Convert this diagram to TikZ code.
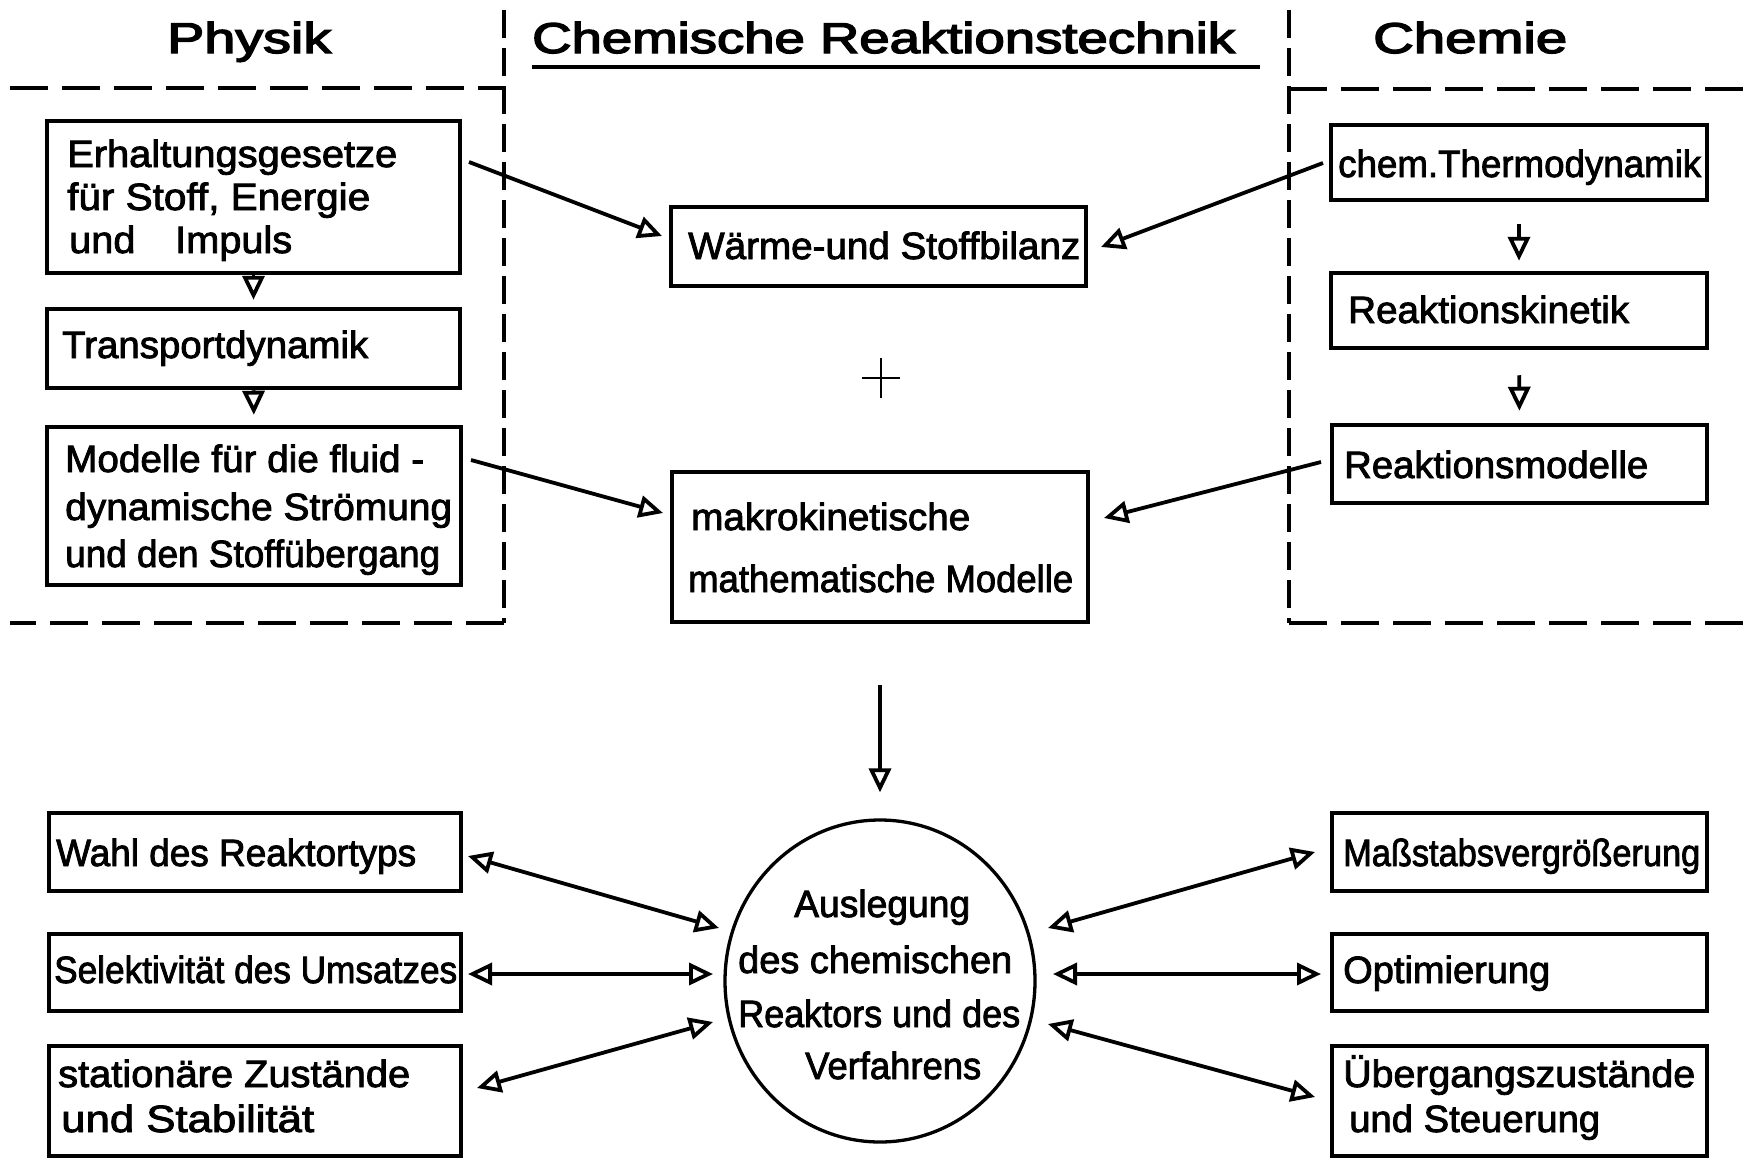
\documentclass[tikz,border=0pt]{standalone}
\usepackage{fontspec}
\setmainfont{Liberation Sans}
\newfontfamily\heavy[FakeBold=2.2]{Liberation Sans}
\newfontfamily\heavier[FakeBold=3]{Liberation Sans}
\usepackage{graphicx}
\usetikzlibrary{arrows.meta,shapes.geometric}
\newcommand{\fitto}[2]{\resizebox{#1pt}{\height}{#2}}
\begin{document}
\begin{tikzpicture}[x=1pt,y=-1pt,
  box/.style={draw, line width=4.5pt, rectangle, inner sep=0pt},
  txt/.style={inner sep=0pt, anchor=base west, font=\heavy\fontsize{38pt}{44pt}\selectfont},
  ttl/.style={inner sep=0pt, anchor=base west, font=\heavier\fontsize{43pt}{50pt}\selectfont},
  arr/.style={line width=3.8pt, -{Triangle[open,length=24pt,width=22pt]}},
  darr/.style={line width=3.8pt, {Triangle[open,length=24pt,width=22pt]}-{Triangle[open,length=24pt,width=22pt]}},
  dsh/.style={line width=4.3pt, dash pattern=on 38pt off 14pt},
  dshv/.style={line width=4.3pt, dash pattern=on 28pt off 10pt}]
\useasboundingbox[fill=white] (0,0) rectangle (1748,1159);

% titles
\node[ttl] (tphys) at (167,53) {\fitto{164}{Physik}};
\node[ttl] (tcrt) at (532,53) {\fitto{703}{Chemische Reaktionstechnik}};
\node[ttl] (tchem) at (1373,53) {\fitto{194}{Chemie}};
\draw[line width=3.5pt] (532,67) -- (1260,67);

% dashed separators
\draw[dsh] (10,88) -- (504,88);
\draw[dshv] (504,10) -- (504,623);
\draw[dsh] (504,623) -- (10,623);
\draw[dsh] (1289,89) -- (1748,89);
\draw[dshv] (1289,10) -- (1289,623);
\draw[dsh] (1289,623) -- (1748,623);

% boxes
\node[box, minimum width=413pt, minimum height=152pt] (erh) at (253.5,197) {};
\node[box, minimum width=413pt, minimum height=79pt] (trans) at (253.5,348.5) {};
\node[box, minimum width=414pt, minimum height=158pt] (mod) at (254,506) {};
\node[box, minimum width=415pt, minimum height=79pt] (waerme) at (878.5,246.5) {};
\node[box, minimum width=416pt, minimum height=150pt] (makro) at (880,547) {};
\node[box, minimum width=376pt, minimum height=75pt] (thermo) at (1519,162.5) {};
\node[box, minimum width=376pt, minimum height=75pt] (kin) at (1519,310.5) {};
\node[box, minimum width=375pt, minimum height=78pt] (rmod) at (1519.5,464) {};
\node[box, minimum width=412pt, minimum height=78pt] (wahl) at (255,852) {};
\node[box, minimum width=412pt, minimum height=77pt] (sel) at (255,972.5) {};
\node[box, minimum width=412pt, minimum height=110pt] (stat) at (255,1101) {};
\node[box, minimum width=375pt, minimum height=78pt] (mass) at (1519.5,852) {};
\node[box, minimum width=375pt, minimum height=77pt] (opt) at (1519.5,972.5) {};
\node[box, minimum width=375pt, minimum height=110pt] (ueb) at (1519.5,1101) {};
\node[draw, ellipse, line width=3.3pt, minimum width=310pt, minimum height=322pt, inner sep=0pt] (ausl) at (880,981) {};

% texts
\node[txt] (t1) at (67,167) {\fitto{330}{Erhaltungsgesetze}};
\node[txt] (t2) at (67,210) {\fitto{303}{für Stoff, Energie}};
\node[txt] (t3) at (69,253) {\fitto{223}{und\quad Impuls}};
\node[txt] (t4) at (62,358) {\fitto{306}{Transportdynamik}};
\node[txt] (t5) at (65,472) {\fitto{359}{Modelle für die fluid -}};
\node[txt] (t6) at (65,520) {\fitto{387}{dynamische Strömung}};
\node[txt] (t7) at (65,567) {\fitto{375}{und den Stoffübergang}};
\node[txt] (t8) at (688,259) {\fitto{392}{Wärme-und Stoffbilanz}};
\node[txt] (t9) at (691,530) {\fitto{279}{makrokinetische}};
\node[txt] (t10) at (688,592) {\fitto{385}{mathematische Modelle}};
\node[txt] (t11) at (1338,177) {\fitto{363}{chem.Thermodynamik}};
\node[txt] (t12) at (1348,323) {\fitto{281}{Reaktionskinetik}};
\node[txt] (t13) at (1344,478) {\fitto{304}{Reaktionsmodelle}};
\node[txt] (t14) at (794,917) {\fitto{176}{Auslegung}};
\node[txt] (t15) at (738,973) {\fitto{274}{des chemischen}};
\node[txt] (t16) at (738,1027) {\fitto{282}{Reaktors und des}};
\node[txt] (t17) at (805,1079) {\fitto{176}{Verfahrens}};
\node[txt] (t18) at (56,866) {\fitto{360}{Wahl des Reaktortyps}};
\node[txt] (t19) at (54,983) {\fitto{403}{Selektivität des Umsatzes}};
\node[txt] (t20) at (58,1087) {\fitto{352}{stationäre Zustände}};
\node[txt] (t21) at (61,1132) {\fitto{253}{und Stabilität}};
\node[txt] (t22) at (1343,866) {\fitto{357}{Maßstabsvergrößerung}};
\node[txt] (t23) at (1343,983) {\fitto{207}{Optimierung}};
\node[txt] (t24) at (1343,1087) {\fitto{352}{Übergangszustände}};
\node[txt] (t25) at (1349,1132) {\fitto{251}{und Steuerung}};

% plus sign
\node[inner sep=0pt] (plus) at (881,378) {};
\draw[line width=2.6pt] ([xshift=-19pt]plus.center) -- ([xshift=19pt]plus.center);
\draw[line width=2.6pt] ([yshift=20pt]plus.center) -- ([yshift=-20pt]plus.center);

% arrow end coordinates
\coordinate (a1s) at (469,162); \coordinate (a1e) at (662,236);
\coordinate (a2s) at (1323,163); \coordinate (a2e) at (1101,247);
\coordinate (a3s) at (471,460); \coordinate (a3e) at (663,513);
\coordinate (a4s) at (1321,462); \coordinate (a4e) at (1104,518);
\coordinate (b1s) at (468,856); \coordinate (b1e) at (719,928);
\coordinate (b2s) at (468,974); \coordinate (b2e) at (713,974);
\coordinate (b3s) at (477,1088); \coordinate (b3e) at (713,1022);
\coordinate (b4s) at (1048,928); \coordinate (b4e) at (1315,852);
\coordinate (b5s) at (1053,974); \coordinate (b5e) at (1321,974);
\coordinate (b6s) at (1048,1024); \coordinate (b6e) at (1315,1097);

% connectors
\draw[arr] (a1s) -- (a1e);
\draw[arr] (a2s) -- (a2e);
\draw[arr] (a3s) -- (a3e);
\draw[arr] (a4s) -- (a4e);
\draw[arr, shorten >=7pt] (erh.south) -- (trans.north);
\draw[arr, shorten >=10pt] (trans.south) -- (mod.north);
\draw[arr, shorten <=22pt, shorten >=10pt] (thermo.south) -- (kin.north);
\draw[arr, shorten <=25pt, shorten >=12pt] (kin.south) -- (rmod.north);
\draw[arr, shorten <=61pt, shorten >=26pt] (makro.south) -- (ausl.north);
\draw[darr] (b1s) -- (b1e);
\draw[darr] (b2s) -- (b2e);
\draw[darr] (b3s) -- (b3e);
\draw[darr] (b4s) -- (b4e);
\draw[darr] (b5s) -- (b5e);
\draw[darr] (b6s) -- (b6e);
\end{tikzpicture}
\end{document}
